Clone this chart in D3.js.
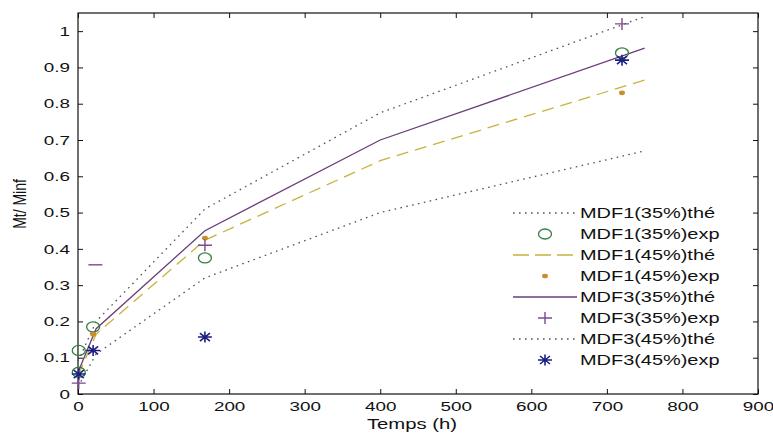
<!DOCTYPE html>
<html>
<head>
<meta charset="utf-8">
<script src="https://cdn.jsdelivr.net/npm/d3@7"></script>
<style>
  body { margin: 0; background: #fff; }
  svg { display: block; }
  text { font-family: "Liberation Sans", Arial, sans-serif; fill: #111; }
</style>
</head>
<body>
<div id="main"></div>
<script>
// Data
const timesThe = [0, 24, 168, 400, 750];
const mdf1_35_the = [0.09, 0.2, 0.51, 0.775, 1.04];
const mdf1_45_the = [0.05, 0.165, 0.424, 0.643, 0.865];
const mdf3_35_the = [0.06, 0.18, 0.45, 0.7, 0.953];
const mdf3_45_the = [0.02, 0.11, 0.32, 0.5, 0.67];

const mdf1_35_expT = [1, 1, 20, 168, 720];
const mdf1_35_expV = [0.06, 0.12, 0.185, 0.375, 0.94];
const mdf1_45_expT = [20, 168, 720];
const mdf1_45_expV = [0.165, 0.43, 0.83];
const mdf3_35_expT = [1, 168, 720];
const mdf3_35_expV = [0.03, 0.41, 1.02];
const mdf3_45_expT = [1, 20, 168, 720];
const mdf3_45_expV = [0.055, 0.12, 0.157, 0.92];
const strayDash = [[23, 0.356]];

const xTicks = [0, 100, 200, 300, 400, 500, 600, 700, 800, 900];
const yTicks = [0, 0.1, 0.2, 0.3, 0.4, 0.5, 0.6, 0.7, 0.8, 0.9, 1];
const legendLabels = [
  "MDF1(35%)thé", "MDF1(35%)exp", "MDF1(45%)thé", "MDF1(45%)exp",
  "MDF3(35%)thé", "MDF3(35%)exp", "MDF3(45%)thé", "MDF3(45%)exp",
];

// Layout
const width = 773, height = 434;
const plotLeft = 78, plotRight = 758, plotTop = 13, plotBottom = 394;
const stretch = 1.45; // the figure is widened horizontally

const col = {
  dotted: "#555",
  circle: "#2f7f3f",
  dashed: "#c9b23a",
  dot: "#c8902a",
  solid: "#6b3d78",
  plus: "#7b4a8c",
  star: "#1c2080",
};

const svg = d3.select("#main").append("svg")
  .attr("width", width).attr("height", height);

const x = d3.scaleLinear().domain([0, 900]).range([plotLeft, plotRight]);
const y = d3.scaleLinear().domain([0, 1.05]).range([plotBottom, plotTop]);

// Axes, ticks pointing inward like MATLAB
const xg = svg.append("g").attr("transform", `translate(0,${plotBottom})`)
  .call(d3.axisBottom(x).tickValues(xTicks).tickSize(-5).tickPadding(8));
const yg = svg.append("g").attr("transform", `translate(${plotLeft},0)`)
  .call(d3.axisLeft(y).tickValues(yTicks).tickSize(-5)
    .tickFormat((d) => (d === 0 || d === 1 ? d3.format("d")(d) : d3.format(".1f")(d))));
svg.append("g").attr("transform", `translate(0,${plotTop})`)
  .call(d3.axisTop(x).tickValues(xTicks).tickSize(-5).tickFormat(""));
svg.append("g").attr("transform", `translate(${plotRight},0)`)
  .call(d3.axisRight(y).tickValues(yTicks).tickSize(-5).tickFormat(""));

svg.selectAll(".domain").remove();
svg.selectAll(".tick line").attr("stroke", "#111");

xg.selectAll("text")
  .attr("font-size", 13)
  .attr("font-family", "Liberation Sans, Arial, sans-serif")
  .attr("fill", "#111")
  .attr("transform", `scale(${stretch},1)`);
yg.selectAll("text")
  .attr("font-size", 13)
  .attr("font-family", "Liberation Sans, Arial, sans-serif")
  .attr("fill", "#111")
  .attr("x", -8 / stretch)
  .attr("transform", `scale(${stretch},1)`);

// Frame
svg.append("rect")
  .attr("x", plotLeft).attr("y", plotTop)
  .attr("width", plotRight - plotLeft).attr("height", plotBottom - plotTop)
  .attr("fill", "none").attr("stroke", "#111").attr("stroke-width", 1.2);

// Axis labels
svg.append("text")
  .attr("transform", `translate(${(plotLeft + plotRight) / 2 - 6},429) scale(${stretch},1)`)
  .attr("text-anchor", "middle")
  .attr("font-size", 14)
  .text("Temps (h)");
svg.append("text")
  .attr("transform", `translate(26,204) scale(1.25,1) rotate(-90)`)
  .attr("text-anchor", "middle")
  .attr("font-size", 14)
  .text("Mt/ Minf");

// Lines
const line = d3.line().x((d) => x(d[0])).y((d) => y(d[1]));
const zip = (t, v) => t.map((d, i) => [d, v[i]]);

const theo = [
  { vals: mdf1_35_the, stroke: col.dotted, dash: "1.6,4.4", w: 1.3 },
  { vals: mdf3_45_the, stroke: col.dotted, dash: "1.6,4.4", w: 1.3 },
  { vals: mdf1_45_the, stroke: col.dashed, dash: "12,7", w: 1.3 },
  { vals: mdf3_35_the, stroke: col.solid, dash: null, w: 1.3 },
];
svg.append("g").selectAll("path").data(theo).join("path")
  .attr("fill", "none")
  .attr("stroke", (d) => d.stroke)
  .attr("stroke-width", (d) => d.w)
  .attr("stroke-dasharray", (d) => d.dash)
  .attr("d", (d) => line(zip(timesThe, d.vals)));

// Markers
function drawMarker(g, type, cx, cy) {
  if (type === "circle") {
    g.append("ellipse").attr("cx", cx).attr("cy", cy).attr("rx", 6.5).attr("ry", 5)
      .attr("fill", "none").attr("stroke", col.circle).attr("stroke-width", 1.3);
  } else if (type === "dot") {
    g.append("ellipse").attr("cx", cx).attr("cy", cy).attr("rx", 3).attr("ry", 2.3)
      .attr("fill", col.dot);
  } else if (type === "plus") {
    g.append("path")
      .attr("d", `M${cx - 7},${cy}H${cx + 7}M${cx},${cy - 6}V${cy + 6}`)
      .attr("stroke", col.plus).attr("stroke-width", 1.4);
  } else if (type === "star") {
    g.append("path")
      .attr("d", `M${cx - 7},${cy}H${cx + 7}M${cx},${cy - 5.5}V${cy + 5.5}` +
        `M${cx - 5},${cy - 4}L${cx + 5},${cy + 4}M${cx - 5},${cy + 4}L${cx + 5},${cy - 4}`)
      .attr("stroke", col.star).attr("stroke-width", 1.6);
  } else if (type === "dash") {
    g.append("path")
      .attr("d", `M${cx - 7},${cy}H${cx + 7}`)
      .attr("stroke", col.plus).attr("stroke-width", 1.4);
  }
}

const expSeries = [
  { t: mdf1_35_expT, v: mdf1_35_expV, type: "circle" },
  { t: mdf1_45_expT, v: mdf1_45_expV, type: "dot" },
  { t: mdf3_35_expT, v: mdf3_35_expV, type: "plus" },
  { t: mdf3_45_expT, v: mdf3_45_expV, type: "star" },
];
const mg = svg.append("g");
expSeries.forEach((s) => {
  zip(s.t, s.v).forEach((p) => drawMarker(mg, s.type, x(p[0]), y(p[1])));
});
strayDash.forEach((p) => drawMarker(mg, "dash", x(p[0]), y(p[1])));

// Legend
const legendItems = [
  { kind: "line", stroke: col.dotted, dash: "1.6,4.4" },
  { kind: "mark", type: "circle" },
  { kind: "line", stroke: col.dashed, dash: "16,6" },
  { kind: "mark", type: "dot" },
  { kind: "line", stroke: col.solid, dash: null },
  { kind: "mark", type: "plus" },
  { kind: "line", stroke: col.dotted, dash: "1.6,4.4" },
  { kind: "mark", type: "star" },
];
const lg = svg.append("g");
legendItems.forEach((it, i) => {
  const ly = 213 + i * 21;
  if (it.kind === "line") {
    lg.append("line")
      .attr("x1", 513).attr("x2", 577).attr("y1", ly).attr("y2", ly)
      .attr("stroke", it.stroke).attr("stroke-width", 1.3)
      .attr("stroke-dasharray", it.dash);
  } else {
    drawMarker(lg, it.type, 545, ly);
  }
  lg.append("text")
    .attr("transform", `translate(580,${ly}) scale(1.33,1)`)
    .attr("dy", "0.36em")
    .attr("font-size", 15)
    .text(legendLabels[i]);
});
</script>
</body>
</html>
